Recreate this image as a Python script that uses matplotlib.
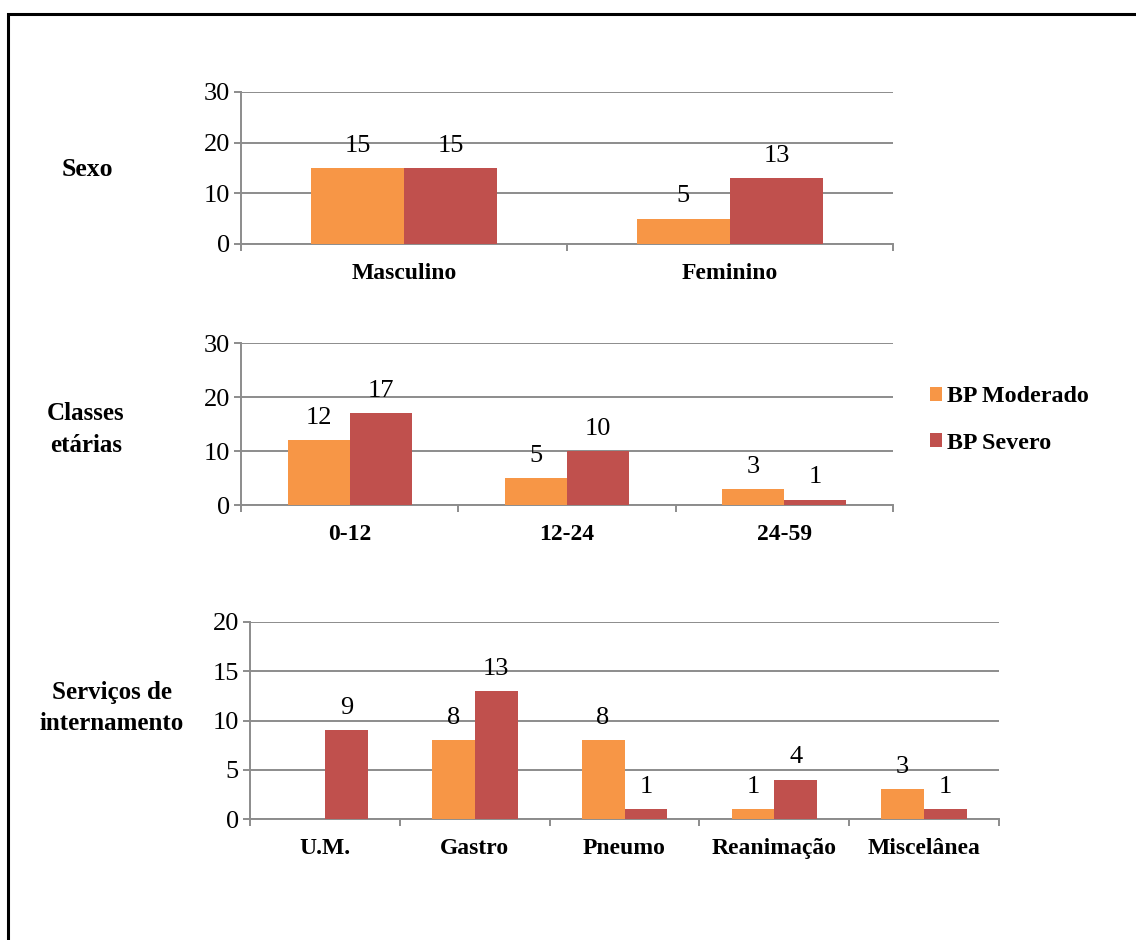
import matplotlib
matplotlib.use("Agg")
import matplotlib.pyplot as plt
import numpy as np
from matplotlib.patches import Rectangle

plt.rcParams['font.family'] = ['Liberation Serif', 'DejaVu Serif']

# --- data ---
series_names = ["BP Moderado", "BP Severo"]
colors = ["#F79646", "#C0504D"]

sexo_cats = ["Masculino", "Feminino"]
sexo_moderado = [15, 5]
sexo_severo = [15, 13]

idade_cats = ["0-12", "12-24", "24-59"]
idade_moderado = [12, 5, 3]
idade_severo = [17, 10, 1]

serv_cats = ["U.M.", "Gastro", "Pneumo", "Reanimação", "Miscelânea"]
serv_moderado = [0, 8, 8, 1, 3]
serv_severo = [9, 13, 1, 4, 1]

W, H = 1136, 940
fig = plt.figure(figsize=(W / 100, H / 100), dpi=100)

# outer frame (left and top edges visible)
fig.patches.append(Rectangle((8 / W, -0.1), 1.2, 1 - 14 / H + 0.1,
                             transform=fig.transFigure, fill=False,
                             edgecolor="black", linewidth=2.2))

NUM_SIZE = 19
TXT_SIZE = 17


def px_axes(left, right, bottom, top):
    return fig.add_axes([left / W, 1 - bottom / H, (right - left) / W, (bottom - top) / H])


def grouped(ax, cats, mod, sev, ymax, ystep):
    n = len(cats)
    x = np.arange(n)
    bw = 1 / 3.5
    bars = []
    for i, (vals, col) in enumerate(zip([mod, sev], colors)):
        pos = x + (i - 0.5) * bw
        b = ax.bar(pos, vals, width=bw, color=col, edgecolor="none",
                   label=series_names[i], zorder=3)
        bars.append(b)
        for p, v in zip(pos, vals):
            if v > 0:
                ax.annotate(f"{v}", (p, v), xytext=(0, 16), textcoords="offset points",
                            ha="center", va="center", fontsize=NUM_SIZE, zorder=4)
    ax.set_xlim(-0.5, n - 0.5)
    ax.set_ylim(0, ymax)
    ax.set_yticks(np.arange(0, ymax + 0.1, ystep))
    ax.yaxis.grid(True, color="#8c8c8c", linewidth=1.4, zorder=0)
    ax.set_axisbelow(True)
    ax.set_xticks(x)
    ax.set_xticklabels(cats, fontweight="bold", fontsize=TXT_SIZE)
    ax.set_xticks(np.arange(-0.5, n), minor=True)
    ax.tick_params(axis="x", which="major", length=0, pad=14)
    ax.tick_params(axis="x", which="minor", length=5, width=1.4, color="#8c8c8c")
    ax.tick_params(axis="y", length=5, width=1.4, color="#8c8c8c", pad=3,
                   labelsize=NUM_SIZE)
    for s in ["top", "right"]:
        ax.spines[s].set_visible(False)
    for s in ["left", "bottom"]:
        ax.spines[s].set_color("#8c8c8c")
        ax.spines[s].set_linewidth(1.4)
    return bars


ax1 = px_axes(241, 893, 244, 92)
grouped(ax1, sexo_cats, sexo_moderado, sexo_severo, 30, 10)

ax2 = px_axes(241, 893, 505, 343)
bars = grouped(ax2, idade_cats, idade_moderado, idade_severo, 30, 10)

ax3 = px_axes(250, 999, 819, 622)
grouped(ax3, serv_cats, serv_moderado, serv_severo, 20, 5)

# row titles
fig.text(87 / W, 1 - 170 / H, "Sexo", ha="center", va="center",
         fontsize=18.5, fontweight="bold")
fig.text(86 / W, 1 - 429 / H, "Classes\netárias", ha="center", va="center",
         fontsize=18, fontweight="bold", linespacing=1.5)
fig.text(112 / W, 1 - 708 / H, "Serviços de\ninternamento", ha="center", va="center",
         fontsize=18, fontweight="bold", linespacing=1.5)

fig.legend(handles=bars, labels=series_names, loc="center left",
           bbox_to_anchor=(930 / W, 1 - 420 / H), frameon=False,
           prop={"size": 17.3, "weight": "bold"},
           handlelength=0.5, handleheight=0.5, handletextpad=0.2,
           labelspacing=1.05, borderpad=0, borderaxespad=0)

fig.savefig("out.png", dpi=100, facecolor="white")
